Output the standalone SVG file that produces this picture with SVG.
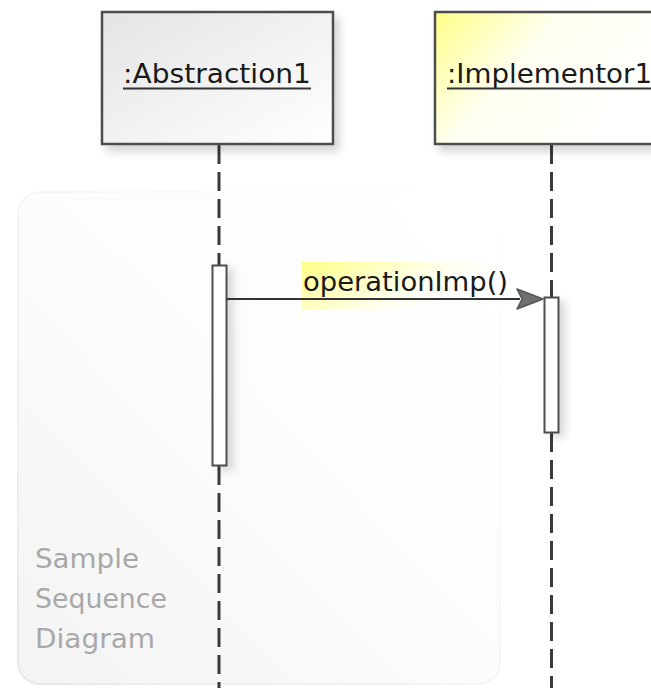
<svg xmlns="http://www.w3.org/2000/svg" width="651" height="688" viewBox="0 0 651 688">
<defs>
<style>
.box{stroke:#4d4d4d;stroke-width:2.5}
.lbl{font-family:"DejaVu Sans","Liberation Sans",sans-serif;font-size:26px;fill:#1a1a1a}
.ul{stroke:#333;stroke-width:2}
.life{stroke:#3a3a3a;stroke-width:3;stroke-dasharray:19 8;fill:none}
.act{fill:#fff;stroke:#4d4d4d;stroke-width:2}
.msg{stroke:#333;stroke-width:2;fill:none}
.note{font-family:"DejaVu Sans","Liberation Sans",sans-serif;font-size:26px;fill:#a8a8a8}
</style>
<linearGradient id="gAbs" x1="0" y1="0" x2="1" y2="1">
<stop offset="0" stop-color="#e4e4e4"/>
<stop offset="1" stop-color="#ffffff"/>
</linearGradient>
<linearGradient id="gImp" x1="0" y1="0" x2="1" y2="0.5">
<stop offset="0" stop-color="#ffff88"/>
<stop offset="0.45" stop-color="#fffff2"/>
<stop offset="1" stop-color="#ffffff"/>
</linearGradient>
<linearGradient id="gFrame" x1="0" y1="1" x2="1" y2="0">
<stop offset="0" stop-color="#f3f3f3"/>
<stop offset="0.5" stop-color="#fcfcfc"/>
<stop offset="1" stop-color="#ffffff"/>
</linearGradient>
<linearGradient id="gFrameS" x1="0" y1="1" x2="1" y2="0">
<stop offset="0" stop-color="#e8e8e8"/>
<stop offset="0.6" stop-color="#f8f8f8"/>
<stop offset="1" stop-color="#ffffff"/>
</linearGradient>
<linearGradient id="gHi" x1="0" y1="0" x2="1" y2="0.4">
<stop offset="0" stop-color="#ffff88"/>
<stop offset="0.55" stop-color="#ffffe0"/>
<stop offset="1" stop-color="#ffffff" stop-opacity="0"/>
</linearGradient>
<filter id="sh" x="-10%" y="-10%" width="130%" height="130%">
<feGaussianBlur in="SourceAlpha" stdDeviation="5"/>
<feOffset dx="5" dy="6" result="b"/>
<feComponentTransfer><feFuncA type="linear" slope="0.18"/></feComponentTransfer>
<feMerge><feMergeNode/><feMergeNode in="SourceGraphic"/></feMerge>
</filter>
<filter id="shA" x="-100%" y="-10%" width="400%" height="130%">
<feGaussianBlur in="SourceAlpha" stdDeviation="4"/>
<feOffset dx="6" dy="4" result="b"/>
<feComponentTransfer><feFuncA type="linear" slope="0.15"/></feComponentTransfer>
<feMerge><feMergeNode/><feMergeNode in="SourceGraphic"/></feMerge>
</filter>
</defs>
<rect width="651" height="688" fill="#fff"/>
<g id="frame">
<rect x="18" y="192" width="482" height="492" rx="22" fill="url(#gFrame)" stroke="url(#gFrameS)" stroke-width="2"/>
<text class="note" x="35" y="568" textLength="104" lengthAdjust="spacingAndGlyphs">Sample</text>
<text class="note" x="35" y="608" textLength="132" lengthAdjust="spacingAndGlyphs">Sequence</text>
<text class="note" x="35" y="648" textLength="120" lengthAdjust="spacingAndGlyphs">Diagram</text>
</g>
<g id="lifelines">
<line class="life" x1="219" y1="145" x2="219" y2="265"/>
<line class="life" x1="219" y1="466" x2="219" y2="688"/>
<line class="life" x1="551.5" y1="145" x2="551.5" y2="297"/>
<line class="life" x1="551.5" y1="433" x2="551.5" y2="688"/>
</g>
<g id="abstraction1">
<rect class="box" x="102" y="12" width="231" height="132" fill="url(#gAbs)" filter="url(#sh)"/>
<text class="lbl" x="123" y="83" textLength="188" lengthAdjust="spacingAndGlyphs">:Abstraction1</text>
<line class="ul" x1="123" y1="88.5" x2="311" y2="88.5"/>
</g>
<g id="implementor1">
<rect class="box" x="435" y="12" width="230" height="132" fill="url(#gImp)" filter="url(#sh)"/>
<text class="lbl" x="447" y="83" textLength="205" lengthAdjust="spacingAndGlyphs">:Implementor1</text>
<line class="ul" x1="447" y1="88.5" x2="651" y2="88.5"/>
</g>
<g id="act1"><rect class="act" x="212.5" y="265.5" width="14" height="200" filter="url(#shA)"/></g>
<g id="act2"><rect class="act" x="544.5" y="297.5" width="14" height="135" filter="url(#shA)"/></g>
<g id="connectors">
<rect x="302" y="262" width="200" height="48" fill="url(#gHi)"/>
<line class="msg" x1="227" y1="299" x2="520" y2="299"/>
<polygon points="517,289 543,299 517,309 522,299" fill="#707070" stroke="#555" stroke-width="1.5" stroke-linejoin="round"/>
<text class="lbl" x="303" y="291" textLength="205" lengthAdjust="spacingAndGlyphs">operationImp()</text>
</g>
</svg>
